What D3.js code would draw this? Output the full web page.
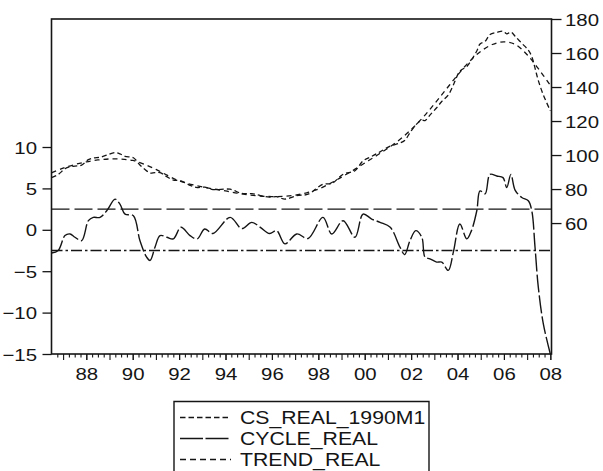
<!DOCTYPE html>
<html><head><meta charset="utf-8">
<script src="https://cdn.jsdelivr.net/npm/d3@7"></script>
<style>body{margin:0;background:#fff} svg{display:block}</style>
</head><body>
<svg id="c" width="603" height="471"></svg>
<script>
// ---- data ----
const cycleDates = [1986.5,1986.79,1987.08,1987.3,1987.51,1987.8,1988.09,1988.3,1988.59,1988.88,
  1989.24,1989.45,1989.67,1990.03,1990.31,1990.6,1990.75,1990.96,1991.18,1991.47,
  1991.75,1992.08,1992.47,1992.78,1993.1,1993.46,1994.2,1994.7,1995.13,1995.5,
  1995.9,1996.2,1996.56,1997.07,1997.56,1998.2,1998.58,1999.07,1999.58,1999.93,
  2000.3,2000.66,2001.1,2001.52,2001.72,2001.95,2002.2,2002.46,2002.6,2002.81,
  2003.1,2003.32,2003.6,2003.82,2004.1,2004.4,2004.6,2004.83,2004.97,2005.19,
  2005.4,2005.69,2005.96,2006.12,2006.3,2006.48,2006.77,2007.05,2007.2,2007.34,
  2007.48,2007.7,2008.0];
const cycleValues = [-2.8,-2.5,-0.7,-0.5,-0.9,-1.3,1.1,1.5,1.5,2.3,
  3.7,3.1,1.9,1.7,-1.3,-3.3,-3.7,-2.1,-0.7,-0.9,
  -1.1,0.3,-0.7,-1.1,0.1,-0.45,1.5,0.15,0.9,0.3,
  -0.45,-0.1,-1.7,-0.5,-1.05,1.5,-0.5,1.1,-0.9,1.9,
  1.3,0.9,0.3,-2.1,-3.0,-1.3,-0.1,-0.9,-3.3,-3.5,
  -3.9,-3.9,-4.9,-2.7,0.7,-1.1,-0.1,2.3,4.7,4.35,
  6.7,6.5,6.3,5.1,6.7,4.8,3.9,3.5,2.3,-2.1,
  -6.9,-11.4,-15];
const csValues = [86.7,88.6,91.9,93.1,93.5,94.1,97.3,98.2,98.7,99.9,
  101.4,100.7,99.2,98.4,94.1,90.7,89.4,89.7,89.6,87.3,
  85.3,84.8,82.2,80.9,81.1,79.7,79.9,77.4,77.3,76.2,
  75.2,75.5,74.1,76.1,77.0,82.8,83.3,88.7,90.8,96.6,
  99.2,101.9,105.3,107.1,108.6,113.1,117.7,120.5,120.3,123.5,
  127.8,131.5,135.3,141.2,149.3,152.1,155.9,161.2,165.3,166.9,
  170.9,172.1,172.8,171.3,172.3,169.9,165.7,161.7,157.9,151.1,
  143.9,135.3,126];
const trendDates = [1986.5,1987,1987.5,1988,1988.5,1989,1989.5,1990,1990.5,1991,1991.5,
  1992,1992.5,1993,1993.5,1994,1994.5,1995,1995.5,1996,1996.5,1997,1997.5,
  1998,1998.5,1999,1999.5,2000,2000.5,2001,2001.5,2002,2002.5,2003,2003.5,
  2004,2004.5,2005,2005.5,2006,2006.5,2007,2007.5,2008];
const trendValues = [89.5,92.3,94.4,96.0,97.1,97.7,97.6,96.8,94.6,91.6,88.0,
  84.8,82.8,81.3,80.0,78.9,77.6,76.6,75.9,75.6,75.7,76.4,77.8,
  80.0,83.2,87.0,91.0,95.3,99.6,104.0,109.0,115.0,122.0,130.0,138.5,
  147.0,154.8,161.0,165.0,166.6,165.0,159.0,150.5,141.0];
const bandValues = [2.5, -2.5];
const xTickYears = [1988,1990,1992,1994,1996,1998,2000,2002,2004,2006,2008];
const xTickLabels = ["88","90","92","94","96","98","00","02","04","06","08"];
const leftTicks = [-15,-10,-5,0,5,10];
const rightTicks = [60,80,100,120,140,160,180];
const legendLabels = ["CS_REAL_1990M1","CYCLE_REAL","TREND_REAL"];

// ---- layout ----
const L = 51.5, R = 551.5, T = 19, B = 354;
const INK = "#151515";
const FONT = "'Liberation Sans', Arial, sans-serif";
const SX = 1.2;

const svg = d3.select("#c");
const x = d3.scaleLinear().domain([1986.5, 2008.05]).range([L, R]);
const yL = d3.scaleLinear().domain([-15, 25.46]).range([B, T]);
const yR = d3.scaleLinear().domain([-17, 180]).range([B, T]);

svg.append("defs").append("clipPath").attr("id","clip")
  .append("rect").attr("x",L).attr("y",T-2).attr("width",R-L).attr("height",B-T+4);

// minor ticks (quarters)
const minor = d3.range(1986.75, 2008.01, 0.25).filter(d => Math.abs(d - Math.round(d)) > 0.01);
svg.append("g").attr("transform",`translate(0,${B})`)
  .call(d3.axisBottom(x).tickValues(minor).tickSize(3.5).tickFormat(""))
  .call(g => g.select(".domain").remove())
  .call(g => g.selectAll("line").attr("stroke",INK).attr("stroke-width",1.1));
const years = d3.range(1987, 2009);
svg.append("g").attr("transform",`translate(0,${B})`)
  .call(d3.axisBottom(x).tickValues(years).tickSize(6).tickFormat(""))
  .call(g => g.select(".domain").remove())
  .call(g => g.selectAll("line").attr("stroke",INK).attr("stroke-width",1.1));
// labelled x axis
svg.append("g").attr("transform",`translate(0,${B})`)
  .call(d3.axisBottom(x).tickValues(xTickYears).tickSize(6).tickFormat((d,i)=>xTickLabels[i]))
  .call(g => g.select(".domain").remove())
  .call(g => g.selectAll("line").attr("stroke",INK).attr("stroke-width",1.1))
  .call(g => g.selectAll("text").attr("y",26).attr("dy",0)
     .attr("transform",`scale(${SX},1)`)
     .attr("font-family",FONT).attr("font-size",17).attr("fill",INK));

// left axis
svg.append("g").attr("transform",`translate(${L},0)`)
  .call(d3.axisLeft(yL).tickValues(leftTicks).tickSize(9))
  .call(g => g.select(".domain").remove())
  .call(g => g.selectAll("line").attr("stroke",INK).attr("stroke-width",1.3))
  .call(g => g.selectAll("text").attr("x",-14.5/SX).attr("dy","0.36em")
     .attr("transform",`scale(${SX},1)`)
     .attr("font-family",FONT).attr("font-size",17).attr("fill",INK));

// right axis
svg.append("g").attr("transform",`translate(${R},0)`)
  .call(d3.axisRight(yR).tickValues(rightTicks).tickSize(10))
  .call(g => g.select(".domain").remove())
  .call(g => g.selectAll("line").attr("stroke",INK).attr("stroke-width",1.3))
  .call(g => g.selectAll("text").attr("x",13.5/SX).attr("dy","0.36em")
     .attr("transform",`scale(${SX},1)`)
     .attr("font-family",FONT).attr("font-size",17).attr("fill",INK));

// frame
svg.append("rect").attr("x",L).attr("y",T).attr("width",R-L).attr("height",B-T)
  .attr("fill","none").attr("stroke",INK).attr("stroke-width",1.6);

const plot = svg.append("g").attr("clip-path","url(#clip)");

// band lines
const bandDash = ["18,5", "11,3,2.5,3"];
plot.selectAll("line.band").data(bandValues).join("line")
  .attr("class","band")
  .attr("x1",L).attr("x2",R)
  .attr("y1",d=>yL(d)).attr("y2",d=>yL(d))
  .attr("stroke",INK).attr("stroke-width",1.4)
  .attr("stroke-dasharray",(d,i)=>bandDash[i]);

const curve = d3.curveCatmullRom.alpha(0.5);
const lineCycle = d3.line().x((d,i)=>x(cycleDates[i])).y(d=>yL(d)).curve(curve);
const lineCS = d3.line().x((d,i)=>x(cycleDates[i])).y(d=>yR(d)).curve(curve);
const lineTrend = d3.line().x((d,i)=>x(trendDates[i])).y(d=>yR(d)).curve(curve);

plot.append("path").attr("d",lineTrend(trendValues))
  .attr("fill","none").attr("stroke",INK).attr("stroke-width",1.3).attr("stroke-dasharray","5,4");
plot.append("path").attr("d",lineCS(csValues))
  .attr("fill","none").attr("stroke",INK).attr("stroke-width",1.3).attr("stroke-dasharray","5,3");
plot.append("path").attr("d",lineCycle(cycleValues))
  .attr("fill","none").attr("stroke",INK).attr("stroke-width",1.4).attr("stroke-dasharray","18,3");

// legend
const leg = svg.append("g");
leg.append("path").attr("d",`M174,475 V401.5 H429 V475`)
  .attr("fill","none").attr("stroke",INK).attr("stroke-width",1.4);
const legDash = ["5.5,3","23,2.5","6,4"];
const baselines = [424, 445, 466];
legendLabels.forEach((lab,i)=>{
  leg.append("line").attr("x1",180).attr("x2",231)
    .attr("y1",baselines[i]-6.5).attr("y2",baselines[i]-6.5)
    .attr("stroke",INK).attr("stroke-width",1.3).attr("stroke-dasharray",legDash[i]);
  leg.append("text").attr("x",240/1.18).attr("y",baselines[i])
    .attr("transform","scale(1.18,1)")
    .attr("font-family",FONT).attr("font-size",18).attr("fill",INK).text(lab);
});
</script>
</body></html>
